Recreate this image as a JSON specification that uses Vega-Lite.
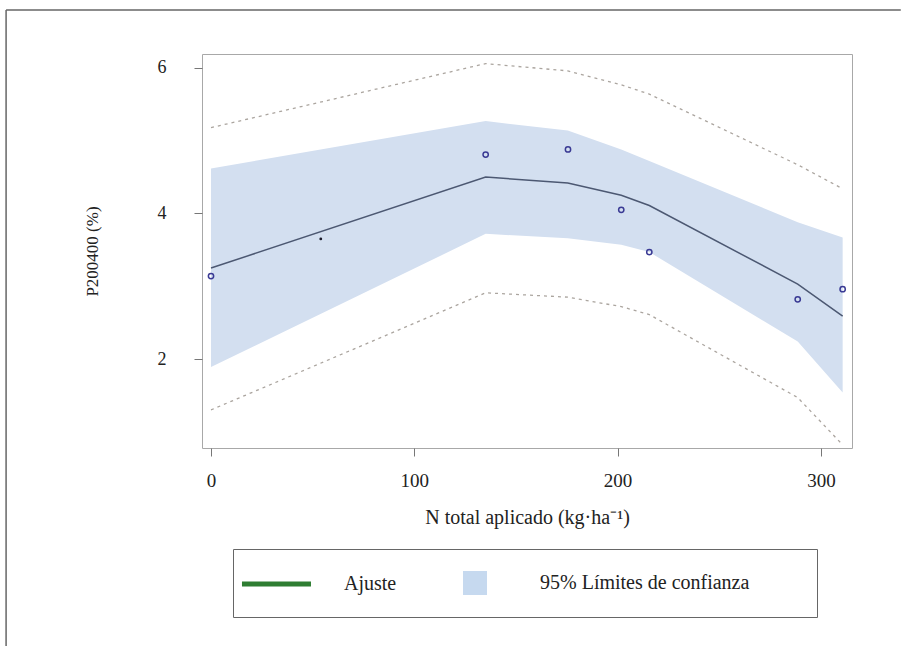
{
  "$schema": "https://vega.github.io/schema/vega-lite/v6.json",
  "width": 650,
  "height": 394,
  "autosize": {"type": "none"},
  "padding": {"left": 202, "top": 54, "right": 49, "bottom": 198},
  "background": "white",
  "config": {
    "view": {"stroke": "#a8a8a8", "strokeWidth": 1},
    "font": "Liberation Serif, Times New Roman, serif",
    "axis": {
      "grid": false,
      "domain": false,
      "tickColor": "#777",
      "tickSize": 8,
      "tickWidth": 1,
      "labelFont": "Liberation Serif, Times New Roman, serif",
      "labelColor": "#222",
      "titleFont": "Liberation Serif, Times New Roman, serif",
      "titleFontWeight": "normal",
      "titleColor": "#222"
    }
  },
  "datasets": {
    "fit": [
      {"n": 0, "fit": 3.25, "lo": 1.89, "hi": 4.62, "plo": 1.30, "phi": 5.18},
      {"n": 135.1, "fit": 4.50, "lo": 3.72, "hi": 5.27, "plo": 2.91, "phi": 6.06},
      {"n": 175.5, "fit": 4.42, "lo": 3.66, "hi": 5.14, "plo": 2.85, "phi": 5.96},
      {"n": 201.8, "fit": 4.25, "lo": 3.57, "hi": 4.88, "plo": 2.72, "phi": 5.77},
      {"n": 215.6, "fit": 4.11, "lo": 3.47, "hi": 4.72, "plo": 2.61, "phi": 5.64},
      {"n": 288.6, "fit": 3.03, "lo": 2.24, "hi": 3.88, "plo": 1.47, "phi": 4.67},
      {"n": 310.7, "fit": 2.59, "lo": 1.54, "hi": 3.67, "plo": 0.82, "phi": 4.34}
    ],
    "obs": [
      {"n": 0, "p": 3.14},
      {"n": 135.1, "p": 4.81},
      {"n": 175.6, "p": 4.88},
      {"n": 201.8, "p": 4.05},
      {"n": 215.6, "p": 3.47},
      {"n": 288.6, "p": 2.82},
      {"n": 310.7, "p": 2.96}
    ],
    "extra": [{"n": 54, "p": 3.65}],
    "leg": [{"serie": "Ajuste"}, {"serie": "95% Límites de confianza"}]
  },
  "layer": [
    {
      "data": {"name": "fit"},
      "mark": {"type": "area", "color": "#d3dff0", "opacity": 1},
      "encoding": {
        "x": {
          "field": "n", "type": "quantitative",
          "scale": {"domain": [-4.43, 315.3], "nice": false, "zero": false},
          "axis": {"values": [0, 100, 200, 300], "format": "d", "labelFontSize": 19, "labelPadding": 15, "title": "N total aplicado (kg·ha⁻¹)", "titleFontSize": 20, "titlePadding": 17}
        },
        "y": {
          "field": "lo", "type": "quantitative",
          "scale": {"domain": [0.777, 6.192], "nice": false, "zero": false},
          "axis": {"values": [2, 4, 6], "format": "d", "labelAngle": 0, "labelFontSize": 18, "labelPadding": 28, "title": "P200400 (%)", "titleFontSize": 17, "titlePadding": 56}
        },
        "y2": {"field": "hi"}
      }
    },
    {
      "data": {"name": "fit"},
      "mark": {"type": "line", "color": "#4c5872", "strokeWidth": 1.5},
      "encoding": {
        "x": {"field": "n", "type": "quantitative"},
        "y": {"field": "fit", "type": "quantitative"}
      }
    },
    {
      "data": {"name": "fit"},
      "mark": {"type": "line", "color": "#aba59f", "strokeWidth": 1.3, "strokeDash": [3, 4]},
      "encoding": {
        "x": {"field": "n", "type": "quantitative"},
        "y": {"field": "phi", "type": "quantitative"}
      }
    },
    {
      "data": {"name": "fit"},
      "mark": {"type": "line", "color": "#aba59f", "strokeWidth": 1.3, "strokeDash": [3, 4]},
      "encoding": {
        "x": {"field": "n", "type": "quantitative"},
        "y": {"field": "plo", "type": "quantitative"}
      }
    },
    {
      "data": {"name": "obs"},
      "mark": {"type": "point", "filled": false, "color": "#3a3a94", "size": 28, "strokeWidth": 1.5, "opacity": 1},
      "encoding": {
        "x": {"field": "n", "type": "quantitative"},
        "y": {"field": "p", "type": "quantitative"}
      }
    },
    {
      "data": {"name": "extra"},
      "mark": {"type": "circle", "color": "#1a1a2a", "size": 8, "opacity": 1},
      "encoding": {
        "x": {"field": "n", "type": "quantitative"},
        "y": {"field": "p", "type": "quantitative"}
      }
    },
    {
      "data": {"values": [{}]},
      "mark": {"type": "rule", "color": "#666", "strokeWidth": 1.5},
      "encoding": {
        "x": {"datum": -100.8},
        "x2": {"datum": 339.3},
        "y": {"datum": 6.797}
      }
    },
    {
      "data": {"values": [{}]},
      "mark": {"type": "rule", "color": "#666", "strokeWidth": 1.5},
      "encoding": {
        "x": {"datum": -100.8},
        "y": {"datum": 6.797},
        "y2": {"datum": -1.945}
      }
    },
    {
      "data": {"name": "leg"},
      "mark": {"type": "point", "filled": true, "size": 576, "opacity": 0},
      "encoding": {
        "color": {
          "field": "serie", "type": "nominal",
          "scale": {"domain": ["Ajuste", "95% Límites de confianza"], "range": ["#2e7d32", "#c6d9ef"]},
          "legend": {
            "title": null,
            "orient": "none",
            "legendX": 31,
            "legendY": 495,
            "direction": "horizontal",
            "strokeColor": "#666",
            "padding": 22,
            "labelFont": "Liberation Serif, Times New Roman, serif",
            "labelFontSize": 20,
            "labelColor": "#222",
            "labelLimit": 0,
            "labelOffset": 65,
            "columnPadding": 54,
            "labelExpr": "datum.label == 'Ajuste' ? datum.label : datum.label + '\u00a0\u00a0\u00a0\u00a0\u00a0\u00a0\u00a0\u00a0\u00a0\u200b'",
            "symbolSize": 576,
            "symbolOpacity": 1,
            "symbolStrokeWidth": 0,
            "encode": {"symbols": {"update": {"opacity": {"value": 1}}}}
          }
        },
        "shape": {
          "field": "serie", "type": "nominal",
          "scale": {"domain": ["Ajuste", "95% Límites de confianza"], "range": ["M-2.085,-0.21H3.665V0.21H-2.085Z", "M0,-1H2V1H0Z"]}
        }
      }
    }
  ]
}
